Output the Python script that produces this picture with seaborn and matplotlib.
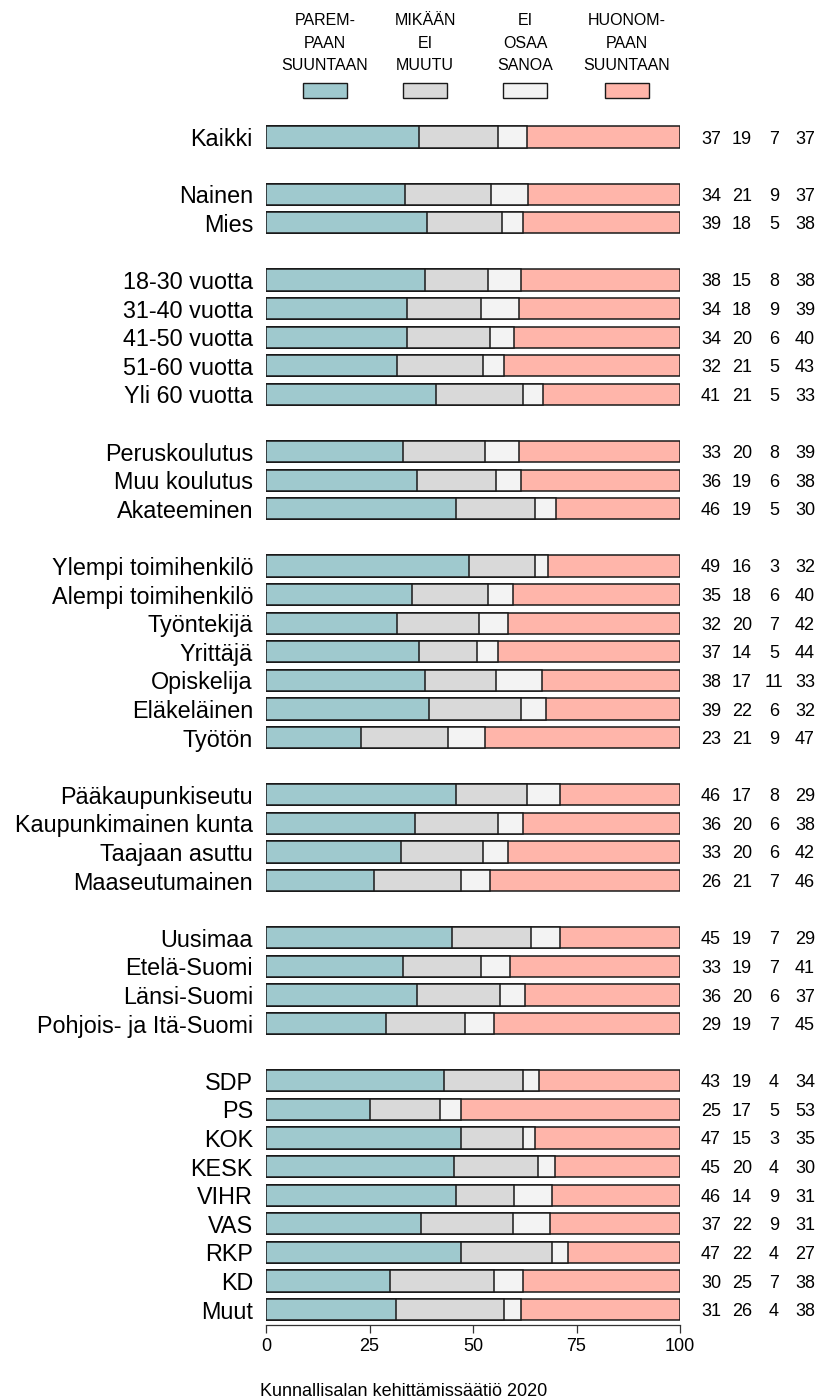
import numpy as np
import pandas as pd
import matplotlib
matplotlib.use("Agg")
import matplotlib.pyplot as plt
from matplotlib.patches import Rectangle
import seaborn as sns

# ── Data ──────────────────────────────────────────────────────────────────────
categories = [
    "Kaikki",
    "Nainen", "Mies",
    "18-30 vuotta", "31-40 vuotta", "41-50 vuotta", "51-60 vuotta", "Yli 60 vuotta",
    "Peruskoulutus", "Muu koulutus", "Akateeminen",
    "Ylempi toimihenkilö", "Alempi toimihenkilö", "Työntekijä", "Yrittäjä",
    "Opiskelija", "Eläkeläinen", "Työtön",
    "Pääkaupunkiseutu", "Kaupunkimainen kunta", "Taajaan asuttu", "Maaseutumainen",
    "Uusimaa", "Etelä-Suomi", "Länsi-Suomi", "Pohjois- ja Itä-Suomi",
    "SDP", "PS", "KOK", "KESK", "VIHR", "VAS", "RKP", "KD", "Muut",
]
group_sizes = [1, 2, 5, 3, 7, 4, 4, 9]

parempaan  = [37, 34, 39, 38, 34, 34, 32, 41, 33, 36, 46, 49, 35, 32, 37, 38, 39, 23,
              46, 36, 33, 26, 45, 33, 36, 29, 43, 25, 47, 45, 46, 37, 47, 30, 31]
ei_muutu   = [19, 21, 18, 15, 18, 20, 21, 21, 20, 19, 19, 16, 18, 20, 14, 17, 22, 21,
              17, 20, 20, 21, 19, 19, 20, 19, 19, 17, 15, 20, 14, 22, 22, 25, 26]
eos        = [7, 9, 5, 8, 9, 6, 5, 5, 8, 6, 5, 3, 6, 7, 5, 11, 6, 9,
              8, 6, 6, 7, 7, 7, 6, 7, 4, 5, 3, 4, 9, 9, 4, 7, 4]
huonompaan = [37, 37, 38, 38, 39, 40, 43, 33, 39, 38, 30, 32, 40, 42, 44, 33, 32, 47,
              29, 38, 42, 46, 29, 41, 37, 45, 34, 53, 35, 30, 31, 31, 27, 38, 38]

legend_labels = ["PAREM-\nPAAN\nSUUNTAAN", "MIKÄÄN\nEI\nMUUTU",
                 "EI\nOSAA\nSANOA", "HUONOM-\nPAAN\nSUUNTAAN"]
xticks = [0, 25, 50, 75, 100]
source = "Kunnallisalan kehittämissäätiö 2020"

COLORS = ["#9fc9ce", "#d9d9d9", "#f3f3f3", "#ffb5aa"]
EDGE = "#1a1a1a"

# ── Layout (pixels of an 823x1400 canvas) ─────────────────────────────────────
W, H = 823, 1400
X0, X100 = 266, 680          # axis 0 and 100
Y_FIRST, SLOT = 137, 28.6    # centre of first bar, row pitch
Y_AXIS = 1325
PXU = (X100 - X0) / 100      # pixels per data unit

def dx(px):
    return (px - X0) / PXU

def dy(py):
    return (py - Y_FIRST) / SLOT

# row positions, one blank row between groups
pos = []
p = 0
for n in group_sizes:
    for _ in range(n):
        pos.append(p)
        p += 1
    p += 1

cols = ["p", "m", "e", "h"]
df = pd.DataFrame({"label": categories, "pos": pos, "p": parempaan,
                   "m": ei_muutu, "e": eos, "h": huonompaan})
shares = df[cols].div(df[cols].sum(axis=1), axis=0) * 100
cum = shares.cumsum(axis=1)
for c in cols:
    df["cum_" + c] = cum[c]

sns.set_style("white")
plt.rcParams["font.family"] = ["Liberation Sans", "DejaVu Sans"]
plt.rcParams["text.color"] = "black"

fig = plt.figure(figsize=(W / 100, H / 100), dpi=100)
top_px = Y_FIRST - SLOT
ax = fig.add_axes([X0 / W, 1 - Y_AXIS / H, (X100 - X0) / W, (Y_AXIS - top_px) / H])

# stacked bars: draw cumulative totals from the right-most segment inwards
for c, col in reversed(list(zip(cols, COLORS))):
    sns.barplot(data=df, x="cum_" + c, y="pos", orient="h", native_scale=True,
                width=0.74, color=col, saturation=1, errorbar=None,
                edgecolor=EDGE, linewidth=1.1, ax=ax)

ax.set_xlim(0, 100)
ax.set_ylim(dy(Y_AXIS), -1)
ax.set_xlabel("")
ax.set_ylabel("")
ax.set_yticks([])
ax.set_xticks(xticks)
ax.set_xticklabels([str(t) for t in xticks])
for s in ["left", "right", "top"]:
    ax.spines[s].set_visible(False)
ax.spines["bottom"].set_bounds(0, 100)
ax.spines["bottom"].set_color("#333333")
ax.spines["bottom"].set_linewidth(0.9)
ax.tick_params(axis="x", bottom=True, length=5.8, width=0.9, color="#333333",
               pad=3.5, labelsize=13, labelcolor="black", direction="out")
ax.patch.set_alpha(0)

# category labels and numbers
num_x = [dx(711), dx(742), dx(774), dx(805)]
for _, r in df.iterrows():
    ax.text(dx(253), r["pos"], r["label"], ha="right", va="center_baseline",
            fontsize=16.8, clip_on=False)
    for xx, c in zip(num_x, cols):
        ax.text(xx, r["pos"], str(r[c]), ha="center", va="center_baseline",
                fontsize=13, clip_on=False)

# legend on top: text above coloured boxes
leg_x = [dx(325), dx(425), dx(525), dx(627)]
box_w = 44 / PXU
box_h = 15 / SLOT
for xx, lab, col in zip(leg_x, legend_labels, COLORS):
    ax.add_patch(Rectangle((xx - box_w / 2, dy(90.5) - box_h / 2), box_w, box_h,
                           facecolor=col, edgecolor=EDGE, linewidth=1.0,
                           clip_on=False))
    for j, line in enumerate(lab.split("\n")):
        ax.text(xx, dy(19 + 22.5 * j), line, ha="center", va="center_baseline",
                fontsize=11.5, clip_on=False)

fig.text(260 / W, 1 - 1390 / H, source, ha="left", va="center_baseline", fontsize=13)

fig.savefig("out.png", dpi=100, facecolor="white")
plt.close(fig)
